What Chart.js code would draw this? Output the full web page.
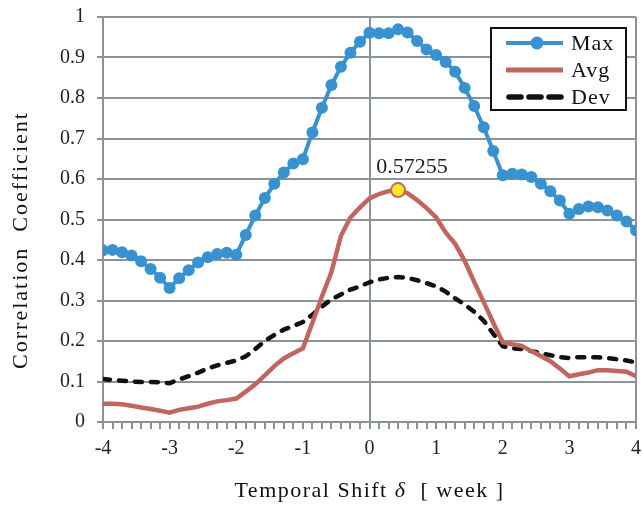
<!DOCTYPE html>
<html>
<head>
<meta charset="utf-8">
<script src="https://cdn.jsdelivr.net/npm/chart.js@4.4.1/dist/chart.umd.min.js"></script>
<style>
  html, body { margin: 0; padding: 0; background: #fff; }
  #wrap { width: 642px; height: 506px; }
</style>
</head>
<body>
<div id="wrap"><canvas id="corr"></canvas></div>
<script>
// shift in days (-4 .. +4 weeks), one sample per day
const shiftDays = Array.from({ length: 57 }, (_, i) => i - 28);
const weekTicks = [-4, -3, -2, -1, 0, 1, 2, 3, 4];
const corrTicks = [0, 0.1, 0.2, 0.3, 0.4, 0.5, 0.6, 0.7, 0.8, 0.9, 1];

const maxCorr = [
  0.424, 0.425, 0.419, 0.411, 0.397, 0.378, 0.356, 0.331, 0.355, 0.375,
  0.394, 0.407, 0.415, 0.418, 0.413, 0.462, 0.510, 0.553, 0.588, 0.616,
  0.638, 0.649, 0.715, 0.776, 0.832, 0.877, 0.912, 0.939, 0.961, 0.960,
  0.960, 0.970, 0.962, 0.941, 0.920, 0.906, 0.889, 0.865, 0.825, 0.780,
  0.728, 0.669, 0.609, 0.613, 0.611, 0.605, 0.588, 0.570, 0.547, 0.514,
  0.526, 0.532, 0.530, 0.522, 0.510, 0.495, 0.473
];
const avgCorr = [
  0.045, 0.045, 0.044, 0.040, 0.036, 0.032, 0.028, 0.023, 0.030, 0.034,
  0.038, 0.045, 0.051, 0.054, 0.058, 0.075, 0.093, 0.115, 0.138, 0.157,
  0.170, 0.182, 0.245, 0.310, 0.370, 0.460, 0.505, 0.530, 0.552, 0.563,
  0.570, 0.57255, 0.565, 0.548, 0.528, 0.505, 0.468, 0.440, 0.398, 0.346,
  0.296, 0.245, 0.197, 0.192, 0.188, 0.175, 0.163, 0.150, 0.132, 0.113,
  0.118, 0.122, 0.128, 0.128, 0.126, 0.124, 0.113
];
const devCorr = [
  0.106, 0.104, 0.102, 0.100, 0.099, 0.099, 0.098, 0.096, 0.105, 0.113,
  0.122, 0.132, 0.140, 0.146, 0.152, 0.162, 0.180, 0.200, 0.215, 0.228,
  0.237, 0.247, 0.265, 0.285, 0.303, 0.315, 0.327, 0.335, 0.345, 0.352,
  0.356, 0.358, 0.356, 0.350, 0.343, 0.335, 0.322, 0.305, 0.290, 0.272,
  0.250, 0.218, 0.187, 0.182, 0.180, 0.175, 0.170, 0.165, 0.160, 0.158,
  0.160, 0.160, 0.160, 0.158, 0.155, 0.152, 0.147
];
const peakIndex = 31;

const weeks = shiftDays.map(d => d / 7);
const pts = arr => arr.map((v, i) => ({ x: weeks[i], y: v }));

const gray = '#8b939a';
const serif = '"Liberation Serif", "DejaVu Serif", serif';

// legend in a black frame, top right inside the plot
const boxLegend = {
  id: 'boxLegend',
  afterDatasetsDraw(chart) {
    const { ctx, chartArea: a } = chart;
    const w = 135, h = 82;
    const x = a.right - 10 - w, y = a.top + 11;
    ctx.save();
    ctx.fillStyle = '#fff';
    ctx.fillRect(x, y, w, h);
    ctx.strokeStyle = '#111';
    ctx.lineWidth = 2;
    ctx.strokeRect(x, y, w, h);
    chart.data.datasets.forEach((ds, i) => {
      const ly = y + 15 + i * 27;
      ctx.strokeStyle = ds.borderColor;
      ctx.lineWidth = ds.legendWidth;
      ctx.lineCap = ds.legendDash ? 'round' : 'butt';
      ctx.setLineDash(ds.legendDash || []);
      ctx.beginPath();
      ctx.moveTo(x + (ds.legendDash ? 18 : 15), ly);
      ctx.lineTo(x + 72, ly);
      ctx.stroke();
      ctx.setLineDash([]);
      if (ds.showMarker) {
        ctx.fillStyle = ds.borderColor;
        ctx.beginPath();
        ctx.arc(x + 46, ly, 6.5, 0, Math.PI * 2);
        ctx.fill();
      }
      ctx.fillStyle = '#111';
      ctx.font = '22px ' + serif;
      ctx.textBaseline = 'middle';
      ctx.textAlign = 'left';
      ctx.letterSpacing = '1px';
      ctx.fillText(ds.label, x + 80, ly + 1);
      ctx.letterSpacing = '0px';
    });
    ctx.restore();
  }
};

// peak value label, plus both axis titles (spaced out, italic delta)
const extras = {
  id: 'extras',
  afterDraw(chart) {
    const { ctx, chartArea: a } = chart;
    const el = chart.getDatasetMeta(1).data[peakIndex];
    ctx.save();
    ctx.fillStyle = '#222';
    ctx.font = '22px ' + serif;
    ctx.textAlign = 'center';
    ctx.textBaseline = 'middle';
    ctx.fillText(String(avgCorr[peakIndex]), el.x + 14, el.y - 23);

    ctx.fillStyle = '#111';
    ctx.letterSpacing = '2px';
    ctx.font = '22px ' + serif;
    ctx.translate(21, 240);
    ctx.rotate(-Math.PI / 2);
    ctx.fillText('Correlation  Coefficient', 0, 0);
    ctx.setTransform(1, 0, 0, 1, 0, 0);

    ctx.letterSpacing = '1.5px';
    const parts = [
      ['Temporal Shift ', '22px ' + serif],
      ['\u03b4', 'italic 22px ' + serif],
      ['  [ week ]', '22px ' + serif]
    ];
    let total = 0;
    parts.forEach(p => { ctx.font = p[1]; total += ctx.measureText(p[0]).width; });
    let cx = (a.left + a.right) / 2 - total / 2;
    ctx.textAlign = 'left';
    parts.forEach(p => {
      ctx.font = p[1];
      ctx.fillText(p[0], cx, 491);
      cx += ctx.measureText(p[0]).width;
    });
    ctx.letterSpacing = '0px';
    ctx.restore();
  }
};

new Chart(document.getElementById('corr'), {
  type: 'line',
  data: {
    datasets: [
      {
        label: 'Max',
        data: pts(maxCorr),
        borderColor: '#3892d0',
        backgroundColor: '#3892d0',
        borderWidth: 4,
        legendWidth: 4,
        pointRadius: 6,
        pointBackgroundColor: '#3892d0',
        pointBorderWidth: 0,
        showMarker: true
      },
      {
        label: 'Avg',
        data: pts(avgCorr),
        borderColor: '#c1665f',
        backgroundColor: '#c1665f',
        borderWidth: 4.5,
        legendWidth: 5,
        pointRadius: c => c.dataIndex === peakIndex ? 7 : 0,
        pointBackgroundColor: '#f7e82a',
        pointBorderColor: '#c1665f',
        pointBorderWidth: 2
      },
      {
        label: 'Dev',
        data: pts(devCorr),
        borderColor: '#111',
        backgroundColor: '#111',
        borderWidth: 4.5,
        borderDash: [7, 9],
        borderCapStyle: 'round',
        legendWidth: 5.5,
        legendDash: [12, 8],
        pointRadius: 0
      }
    ]
  },
  options: {
    responsive: true,
    maintainAspectRatio: false,
    animation: false,
    layout: { padding: { left: 8, right: 5, top: 17, bottom: 0 } },
    plugins: {
      legend: { display: false },
      tooltip: { enabled: false }
    },
    scales: {
      x: {
        type: 'linear',
        min: -4,
        max: 4,
        afterBuildTicks: s => { s.ticks = weeks.map(v => ({ value: v })); },
        afterFit: s => { s.height = 84; s.paddingLeft = 0; s.paddingRight = 0; },
        ticks: {
          autoSkip: false,
          maxRotation: 0,
          padding: 8,
          color: '#222',
          font: { family: serif, size: 20 },
          callback: v => {
            const w = weekTicks.find(t => Math.abs(t - v) < 1e-6);
            return w === undefined ? '' : String(w);
          }
        },
        grid: {
          color: c => (c.tick && [0, -4, 4].some(t => Math.abs(t - c.tick.value) < 1e-6)) ? gray : 'rgba(0,0,0,0)',
          tickColor: gray,
          lineWidth: 2,
          tickWidth: 2,
          tickLength: 7
        },
        border: { color: gray, width: 2 }
      },
      y: {
        min: 0,
        max: 1,
        afterBuildTicks: s => { s.ticks = corrTicks.map(v => ({ value: v })); },
        afterFit: s => { s.width = 95; s.paddingTop = 0; s.paddingBottom = 0; },
        ticks: {
          padding: 12,
          color: '#222',
          font: { family: serif, size: 20 },
          callback: v => String(Number(v.toFixed(1)))
        },
        grid: {
          color: gray,
          tickColor: gray,
          lineWidth: 2,
          tickLength: 6
        },
        border: { color: gray, width: 2 }
      }
    }
  },
  plugins: [boxLegend, extras]
});
</script>
</body>
</html>
